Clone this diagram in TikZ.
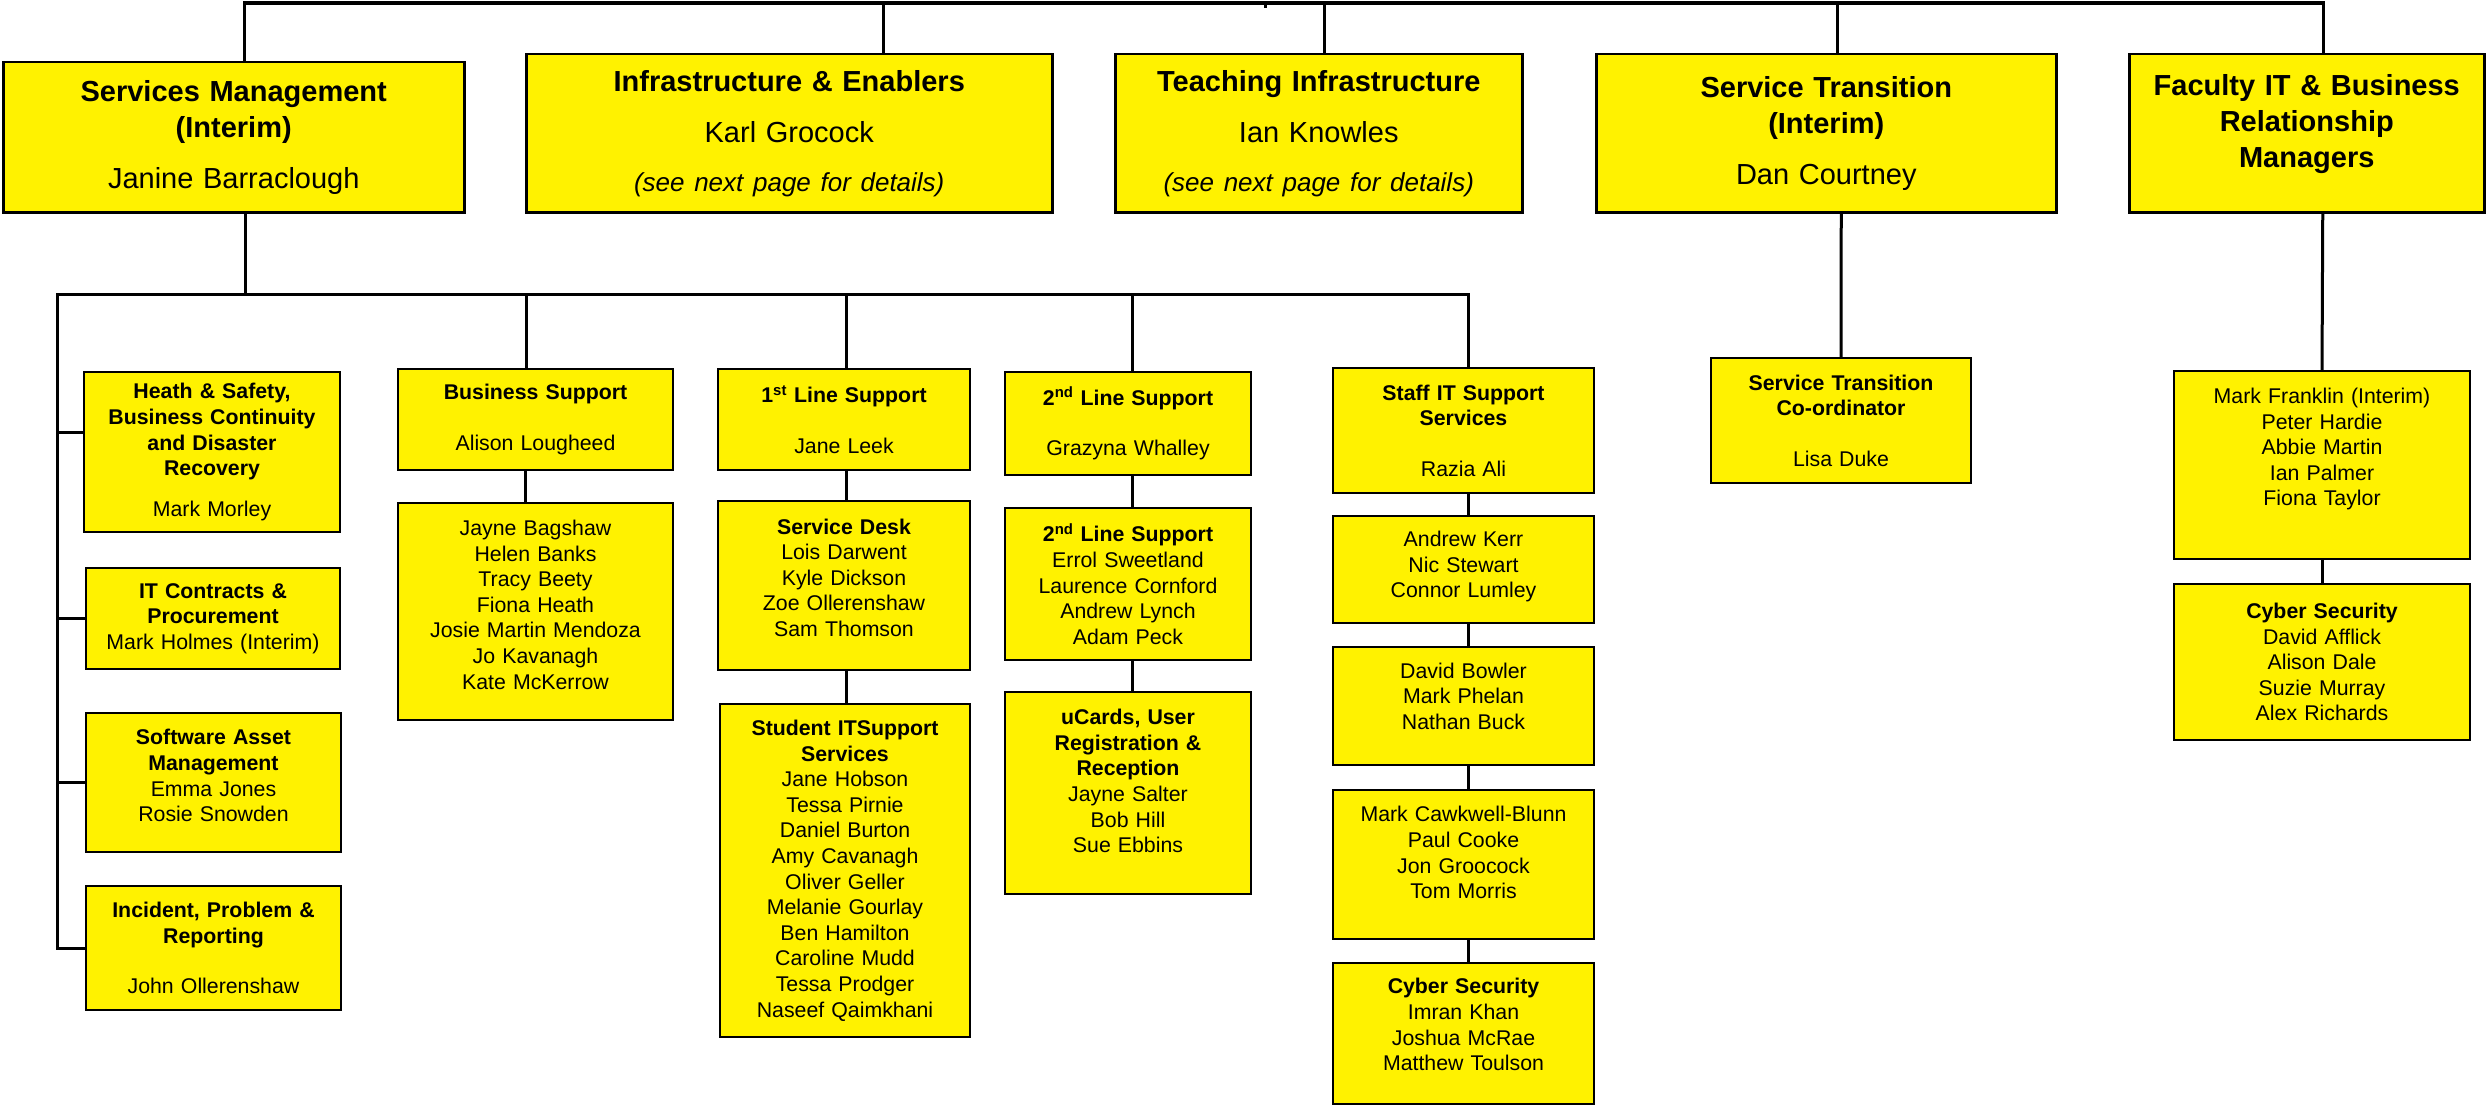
\documentclass[tikz,border=0pt]{standalone}
\usepackage{fontspec}
\setmainfont{Liberation Sans}
\newcommand{\toptext}{\fontsize{29pt}{36pt}\selectfont}
\newcommand{\unittext}{\fontsize{21.3pt}{25.6pt}\selectfont}
\newcommand{\seenext}{{\fontsize{26pt}{36pt}\selectfont\itshape (see next page for details)}}
\newcommand{\padb}[1]{\rule[-#1]{0pt}{#1}}
\tikzset{
  topbox/.style={draw, fill=yellow, line width=2.5pt, anchor=north west,
                 align=center, inner sep=0pt, font=\toptext},
  unit/.style={draw, fill=yellow, line width=2pt, anchor=north west,
               align=center, inner sep=0pt, font=\unittext},
  boxsize/.style 2 args={minimum width=#1pt, minimum height=#2pt, text width=#1pt-16pt},
  link/.style={line width=3pt},
}

\begin{document}
\begin{tikzpicture}[x=1pt,y=-1pt]
    \useasboundingbox (0,0) rectangle (2486,1105);

    % top row
    \node[topbox, boxsize={461}{150}] (sm) at (2,61)
         {\textbf{Services Management}\\\textbf{(Interim)}\\[15pt]Janine Barraclough};
    \node[topbox, boxsize={526}{158}] (inf) at (525,53)
         {\textbf{Infrastructure \& Enablers}\\[15pt]Karl Grocock\\[13pt]\seenext};
    \node[topbox, boxsize={407}{158}] (teach) at (1114,53)
         {\textbf{Teaching Infrastructure}\\[15pt]Ian Knowles\\[13pt]\seenext};
    \node[topbox, boxsize={460}{158}] (st) at (1595,53)
         {\textbf{Service Transition}\\\textbf{(Interim)}\\[15pt]Dan Courtney};
    \node[topbox, boxsize={355}{158}] (fac) at (2128,53)
         {\textbf{Faculty IT \& Business}\\\textbf{Relationship}\\\textbf{Managers}\padb{24pt}};

    % services management, left column
    \node[unit, boxsize={256}{160}] (hs) at (83,371)
         {\textbf{Heath \& Safety,}\\\textbf{Business Continuity}\\\textbf{and Disaster}\\\textbf{Recovery}\\[15pt]Mark Morley};
    \node[unit, boxsize={254}{101}] (itc) at (85,567)
         {\textbf{IT Contracts \&}\\\textbf{Procurement}\\Mark Holmes (Interim)};
    \node[unit, boxsize={255}{139}] (sam) at (85,712)
         {\textbf{Software Asset}\\\textbf{Management}\\Emma Jones\\Rosie Snowden\padb{14pt}};
    \node[unit, boxsize={255}{124}] (ipr) at (85,885)
         {\textbf{Incident, Problem \&}\\\textbf{Reporting}\\[25pt]John Ollerenshaw};

    % business support
    \node[unit, boxsize={275}{101}] (bs) at (397,368)
         {\textbf{Business Support}\\[25pt]Alison Lougheed};
    \node[unit, boxsize={275}{217}] (bsteam) at (397,502)
         {Jayne Bagshaw\\Helen Banks\\Tracy Beety\\Fiona Heath\\Josie Martin Mendoza\\Jo Kavanagh\\Kate McKerrow\padb{14pt}};

    % 1st line
    \node[unit, boxsize={252}{101}] (l1) at (717,368)
         {\textbf{1\textsuperscript{st} Line Support}\\[25pt]Jane Leek};
    \node[unit, boxsize={252}{169}] (desk) at (717,500)
         {\textbf{Service Desk}\\Lois Darwent\\Kyle Dickson\\Zoe Ollerenshaw\\Sam Thomson\padb{16pt}};
    \node[unit, boxsize={250}{333}] (student) at (719,703)
         {\textbf{Student ITSupport}\\\textbf{Services}\\Jane Hobson\\Tessa Pirnie\\Daniel Burton\\Amy Cavanagh\\Oliver Geller\\Melanie Gourlay\\Ben Hamilton\\Caroline Mudd\\Tessa Prodger\\Naseef Qaimkhani};

    % 2nd line
    \node[unit, boxsize={246}{103}] (l2) at (1004,371)
         {\textbf{2\textsuperscript{nd} Line Support}\\[25pt]Grazyna Whalley};
    \node[unit, boxsize={246}{152}] (l2team) at (1004,507)
         {\textbf{2\textsuperscript{nd} Line Support}\\Errol Sweetland\\Laurence Cornford\\Andrew Lynch\\Adam Peck};
    \node[unit, boxsize={246}{202}] (ucards) at (1004,691)
         {\textbf{uCards, User}\\\textbf{Registration \&}\\\textbf{Reception}\\Jayne Salter\\Bob Hill\\Sue Ebbins\padb{24pt}};

    % staff IT support
    \node[unit, boxsize={261}{125}] (staff) at (1332,367)
         {\textbf{Staff IT Support}\\\textbf{Services}\\[25pt]Razia Ali};
    \node[unit, boxsize={261}{107}] (staff2) at (1332,515)
         {Andrew Kerr\\Nic Stewart\\Connor Lumley\padb{10pt}};
    \node[unit, boxsize={261}{118}] (staff3) at (1332,646)
         {David Bowler\\Mark Phelan\\Nathan Buck\padb{20pt}};
    \node[unit, boxsize={261}{149}] (staff4) at (1332,789)
         {Mark Cawkwell-Blunn\\Paul Cooke\\Jon Groocock\\Tom Morris\padb{24pt}};
    \node[unit, boxsize={261}{141}] (staffcyber) at (1332,962)
         {\textbf{Cyber Security}\\Imran Khan\\Joshua McRae\\Matthew Toulson\padb{18pt}};

    % service transition
    \node[unit, boxsize={260}{125}] (coord) at (1710,357)
         {\textbf{Service Transition}\\\textbf{Co-ordinator}\\[25pt]Lisa Duke};

    % faculty
    \node[unit, boxsize={296}{188}] (facteam) at (2173,370)
         {Mark Franklin (Interim)\\Peter Hardie\\Abbie Martin\\Ian Palmer\\Fiona Taylor\padb{36pt}};
    \node[unit, boxsize={296}{156}] (faccyber) at (2173,583)
         {\textbf{Cyber Security}\\David Afflick\\Alison Dale\\Suzie Murray\\Alex Richards};

    %edges
    \coordinate (topbar) at (0,3);
    \coordinate (tick) at (1265,8);
    \draw[link, line width=3.5pt] ([xshift=10.5pt]sm.north) |- ([xshift=16.5pt]fac.north |- topbar)
         -- ([xshift=16.5pt]fac.north);
    \draw[link] (tick) -- (tick |- topbar);
    \draw[link] ([xshift=94pt]inf.north) -- ([xshift=94pt]inf.north |- topbar);
    \draw[link] ([xshift=6pt]teach.north) -- ([xshift=6pt]teach.north |- topbar);
    \draw[link] ([xshift=11pt]st.north) -- ([xshift=11pt]st.north |- topbar);

    \coordinate (subbar) at (57,294);
    \coordinate (hsin) at ([yshift=20pt]hs.west);
    \draw[link] ([xshift=11.5pt]sm.south) -- ([xshift=11.5pt]sm.south |- subbar);
    \draw[link] (ipr.west) -- (ipr.west -| subbar) -- (subbar)
         -- ([xshift=4.5pt]staff.north |- subbar) -- ([xshift=4.5pt]staff.north);
    \draw[link] (hsin) -- (hsin -| subbar);
    \draw[link] (itc.west) -- (itc.west -| subbar);
    \draw[link] (sam.west) -- (sam.west -| subbar);

    \draw[link] ([xshift=-9.5pt]bs.north) -- ([xshift=-9.5pt]bs.north |- subbar);
    \draw[link] ([xshift=-10.5pt]bs.south) -- ([xshift=-10.5pt]bsteam.north);

    \draw[link] ([xshift=2pt]l1.north) -- ([xshift=2pt]l1.north |- subbar);
    \draw[link] ([xshift=2pt]l1.south) -- ([xshift=2pt]desk.north);
    \draw[link] ([xshift=2pt]desk.south) -- ([xshift=1pt]student.north);

    \draw[link] ([xshift=4.5pt]l2.north) -- ([xshift=4.5pt]l2.north |- subbar);
    \draw[link] ([xshift=4.5pt]l2.south) -- ([xshift=4.5pt]l2team.north);
    \draw[link] ([xshift=4.5pt]l2team.south) -- ([xshift=4.5pt]ucards.north);

    \draw[link] ([xshift=4.5pt]staff.south) -- ([xshift=4.5pt]staff2.north);
    \draw[link] ([xshift=4.5pt]staff2.south) -- ([xshift=4.5pt]staff3.north);
    \draw[link] ([xshift=4.5pt]staff3.south) -- ([xshift=4.5pt]staff4.north);
    \draw[link] ([xshift=4.5pt]staff4.south) -- ([xshift=4.5pt]staffcyber.north);

    \draw[link] ([xshift=15pt]st.south) -- (coord.north);

    \draw[link] ([xshift=16pt]fac.south) -- (facteam.north);
    \draw[link] (facteam.south) -- (faccyber.north);
\end{tikzpicture}
\end{document}
